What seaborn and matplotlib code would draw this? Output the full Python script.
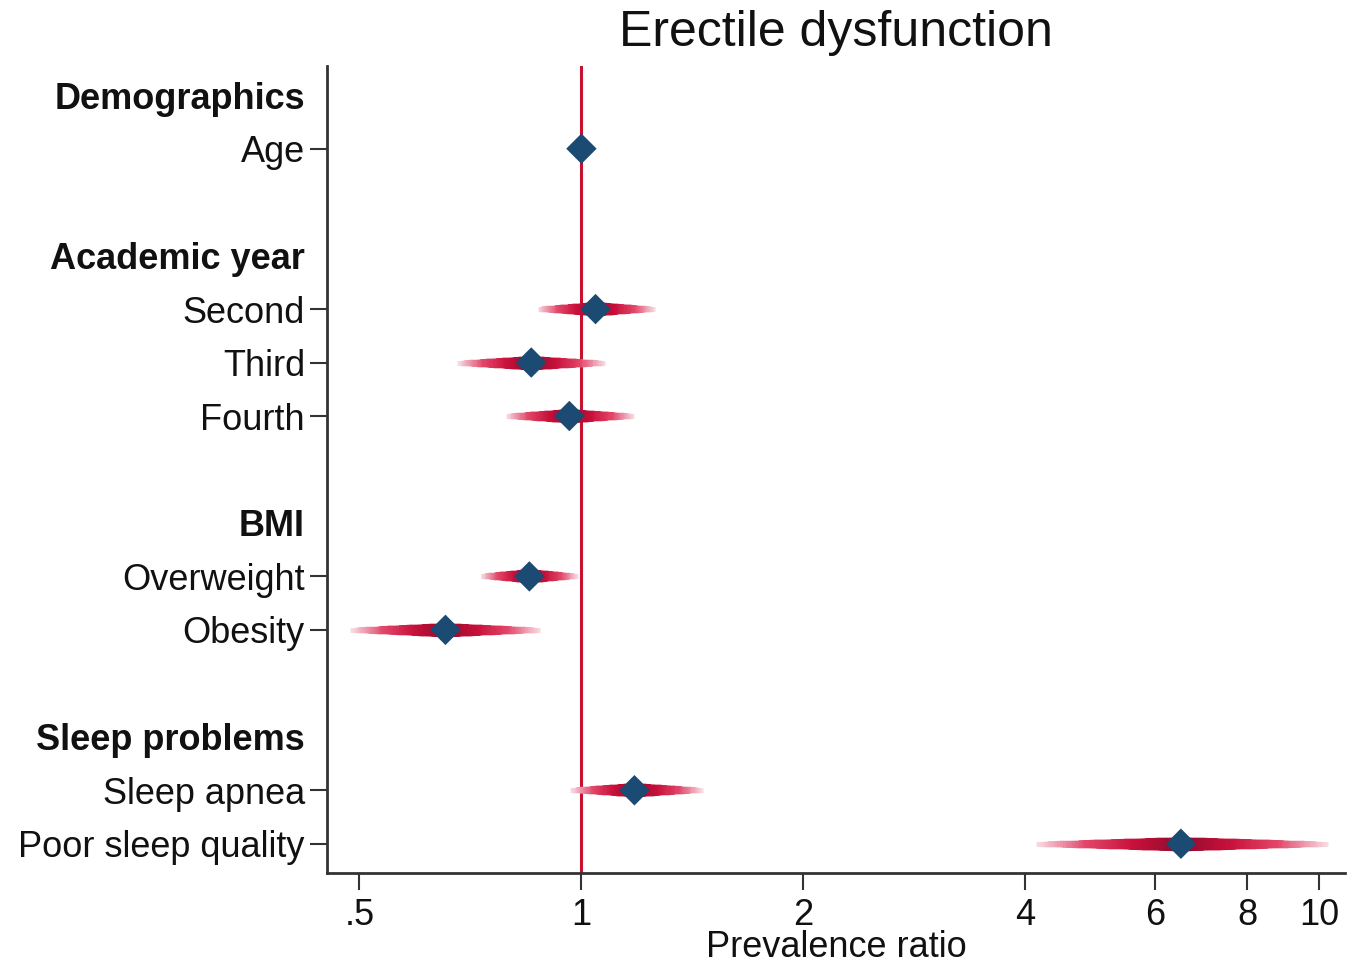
import numpy as np
import pandas as pd
import matplotlib
matplotlib.use("Agg")
import matplotlib.pyplot as plt
import matplotlib.colors as mcolors
import seaborn as sns

sns.set_theme(style="white")
plt.rcParams['font.family'] = ['Liberation Sans', 'DejaVu Sans']
plt.rcParams['text.color'] = '#111111'
plt.rcParams['xtick.color'] = '#111111'
plt.rcParams['ytick.color'] = '#111111'
plt.rcParams['axes.labelcolor'] = '#111111'
fontsize = 26

# --------------------------- data ---------------------------
row_labels = ["Demographics", "Age", "", "Academic year", "Second", "Third", "Fourth", "",
              "BMI", "Overweight", "Obesity", "", "Sleep problems", "Sleep apnea",
              "Poor sleep quality"]
is_header = [True, False, False, True, False, False, False, False,
             True, False, False, False, True, False, False]
ratio = [np.nan, 1.00, np.nan, np.nan, 1.045, 0.855, 0.963, np.nan,
         np.nan, 0.85, 0.654, np.nan, np.nan, 1.18, 6.5]
ci_low = [np.nan, 0.99, np.nan, np.nan, 0.872, 0.679, 0.789, np.nan,
          np.nan, 0.73, 0.486, np.nan, np.nan, 0.966, 4.13]
ci_high = [np.nan, 1.01, np.nan, np.nan, 1.26, 1.078, 1.18, np.nan,
           np.nan, 0.988, 0.88, np.nan, np.nan, 1.46, 10.3]
xtick_values = [0.5, 1, 2, 4, 6, 8, 10]
xtick_labels = [".5", "1", "2", "4", "6", "8", "10"]

df = pd.DataFrame({"label": row_labels, "header": is_header,
                   "pr": ratio, "lo": ci_low, "hi": ci_high})
df["row"] = np.arange(len(df))
est = df.dropna(subset=["pr"])

# --------------------------- figure ---------------------------
fig = plt.figure(figsize=(13.63, 9.68), dpi=100)
ax = fig.add_axes([0.240, 0.098, 0.747, 0.834])
ax.set_xscale("log")

# reference line at 1
ax.axvline(1, color="#C4122F", linewidth=2.2, zorder=1)

# smoothed confidence intervals: nested segments, longest/palest/thinnest drawn first
ci_cmap = mcolors.LinearSegmentedColormap.from_list(
    "ci", ["#8E0B2C", "#C8103A", "#E2476A", "#F7DCE2"])
n_seg = 60
for _, r in est.iterrows():
    c = np.log(r["pr"])
    for end in (np.log(r["lo"]), np.log(r["hi"])):
        for k in range(n_seg, 0, -1):
            t = k / n_seg
            ax.plot([r["pr"], np.exp(c + (end - c) * t)], [r["row"], r["row"]],
                    color=ci_cmap(t), linewidth=10 * (1 - t) + 3.5 * t,
                    solid_capstyle="butt", zorder=2)

sns.scatterplot(data=est, x="pr", y="row", marker="D", s=240, color="#1B4A72",
                edgecolor="none", ax=ax, zorder=3, legend=False)

# axes
ax.set_ylim(len(df) - 0.45, -0.55)
ax.set_xlim(0.452, 10.86)
ax.set_yticks(df["row"])
ax.set_yticklabels(df["label"], fontsize=fontsize)
ax.set_xticks(xtick_values)
ax.set_xticklabels(xtick_labels, fontsize=fontsize)
ax.xaxis.set_minor_locator(matplotlib.ticker.NullLocator())
ax.tick_params(axis="both", which="major", direction="out", length=12, width=1.5,
               color="#333333", left=True, bottom=True)
ax.tick_params(axis="y", pad=4)
ax.tick_params(axis="x", pad=6)

for tick, lab, hdr in zip(ax.yaxis.get_major_ticks(), ax.get_yticklabels(), df["header"]):
    if hdr or lab.get_text() == "":
        tick.tick1line.set_visible(False)
    if hdr:
        lab.set_fontweight("bold")

ax.set_xlabel("Prevalence ratio", fontsize=fontsize, labelpad=-2)
ax.set_ylabel("")
ax.set_title("Erectile dysfunction", fontsize=36, pad=14)

sns.despine(ax=ax)
for side in ("left", "bottom"):
    ax.spines[side].set_color("#333333")
    ax.spines[side].set_linewidth(2)
ax.grid(False)

fig.savefig("out.png", dpi=100)
